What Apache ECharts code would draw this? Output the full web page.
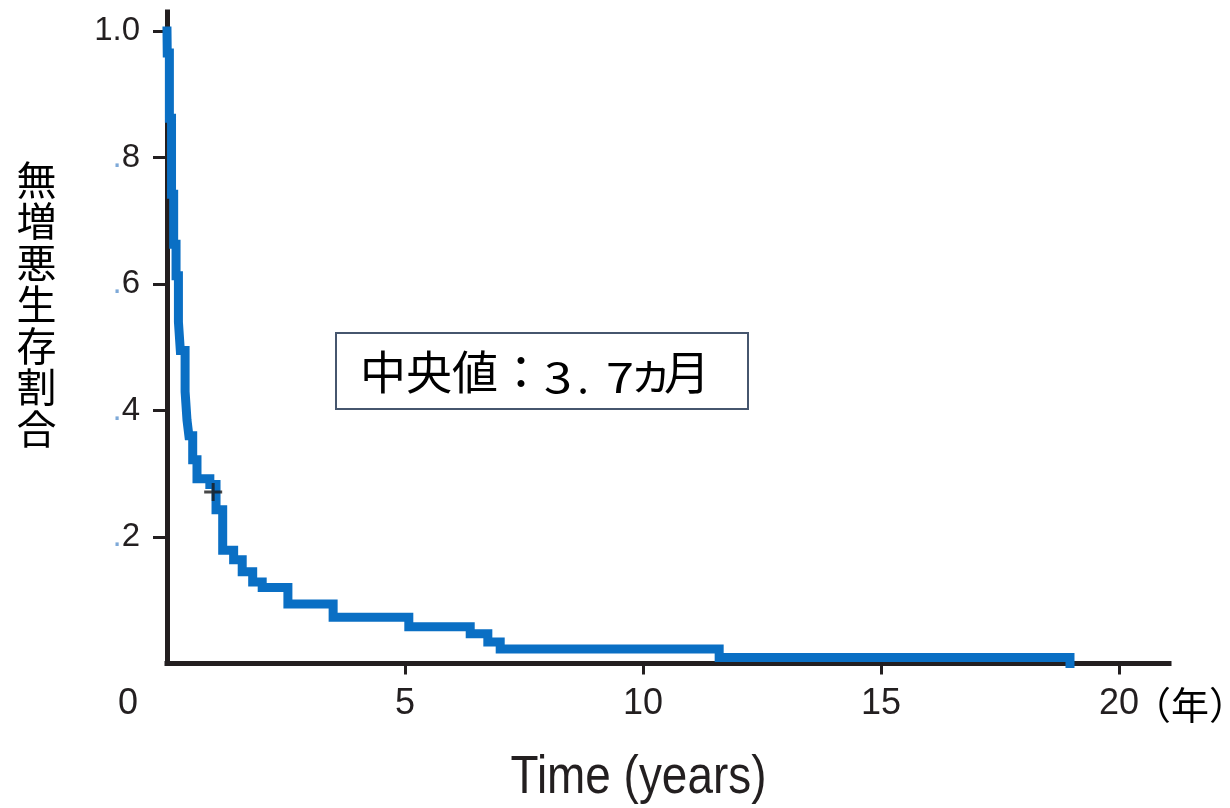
<!DOCTYPE html>
<html>
<head>
<meta charset="utf-8">
<script src="https://cdn.jsdelivr.net/npm/echarts@6/dist/echarts.min.js"></script>
<style>
  html, body { margin: 0; padding: 0; background: #fff; }
  #chart { width: 1230px; height: 808px; }
</style>
</head>
<body>
<div id="chart"></div>
<script>
// Kaplan–Meier progression-free survival: each point is [time in years, survival after the drop]
const stepTimes = [0, 0.005, 0.05, 0.095, 0.14, 0.19, 0.24, 0.28, 0.38, 0.42, 0.46, 0.54, 0.63,
  0.9, 1.03, 1.17, 1.40, 1.58, 1.80, 2.0, 2.54, 3.49, 5.08, 6.37, 6.74, 7.0, 11.6, 18.97];
const survival = [1.0, 0.965, 0.862, 0.742, 0.663, 0.613, 0.54, 0.495, 0.43, 0.385, 0.36, 0.322, 0.292,
  0.283, 0.243, 0.179, 0.164, 0.145, 0.129, 0.12, 0.094, 0.073, 0.058, 0.047, 0.034, 0.023, 0.0095, 0.0];

// Censored observation
const censorTimes = [0.97];
const censorSurv = [0.271];

// Axis ticks and labels
const xTickValues = [0, 5, 10, 15, 20];
const xTickLabels = ['0', '5', '10', '15', '20'];
const yTickValues = [0.2, 0.4, 0.6, 0.8, 1.0];
const yTickLabels = ['.2', '.4', '.6', '.8', '1.0'];

const yName = '無増悪生存割合';
const xName = 'Time (years)';
const xUnit = '（年）';

const kmData = stepTimes.map((t, i) => [t, survival[i]]);
const censorData = censorTimes.map((t, i) => [t, censorSurv[i]]);

const ink = '#231f20';
const latin = 'Liberation Sans, Arial, sans-serif';
const cjk = 'Noto Sans CJK JP';
const chart = echarts.init(document.getElementById('chart'), null, { renderer: 'canvas' });

// median annotation pieces: text, centre x, centre y, font size, horizontal stretch
const medianPieces = [
  ['中央値：', 360, 372, 46, 1, 'left'],
  ['3', 558, 377, 42, 1.2, 'center'],
  ['.', 583, 377, 42, 1, 'center'],
  ['7', 620, 377, 42, 1.2, 'center'],
  ['ヵ', 651, 372, 46, 1, 'center'],
  ['月', 664, 372, 46, 1, 'left']
];

chart.setOption({
  animation: false,
  backgroundColor: '#ffffff',
  grid: { left: 167, right: 61, top: 12, bottom: 144.5, containLabel: false },
  xAxis: {
    type: 'value', min: 0, max: 21.05, interval: 5,
    splitLine: { show: false },
    axisLine: { show: true, onZero: true, lineStyle: { color: ink, width: 5, cap: 'square' } },
    axisTick: { show: true, customValues: [5, 10, 15, 20], length: 11, lineStyle: { color: ink, width: 3 } },
    axisLabel: {
      customValues: xTickValues,
      margin: 23,
      color: ink,
      fontFamily: latin,
      fontSize: 36,
      formatter: function (v) {
        const i = xTickValues.indexOf(v);
        const s = i >= 0 ? xTickLabels[i] : '';
        return v === 0 ? '{origin|' + s + '}' : s;
      },
      rich: { origin: { padding: [0, 78, 0, 0], fontSize: 36, color: ink, fontFamily: latin } }
    }
  },
  yAxis: {
    type: 'value', min: 0, max: 1.03, interval: 0.2,
    splitLine: { show: false },
    axisLine: { show: true, lineStyle: { color: ink, width: 5, cap: 'square' } },
    axisTick: { show: true, customValues: yTickValues, length: 14, lineStyle: { color: ink, width: 3 } },
    axisLabel: {
      customValues: yTickValues,
      margin: 27,
      color: ink,
      fontFamily: latin,
      fontSize: 33,
      formatter: function (v) {
        let i = -1;
        yTickValues.forEach((tv, k) => { if (Math.abs(tv - v) < 1e-6) i = k; });
        if (i < 0) return '';
        const s = yTickLabels[i];
        return s.charAt(0) === '.' ? '{dot|.}{num|' + s.slice(1) + '}' : '{num|' + s + '}';
      },
      rich: {
        dot: { color: '#7ea9d8', fontSize: 33, fontFamily: latin },
        num: { color: ink, fontSize: 33, fontFamily: latin }
      }
    }
  },
  series: [
    {
      type: 'line',
      data: kmData,
      step: 'end',
      showSymbol: false,
      clip: false,
      z: 3,
      lineStyle: { color: '#0a6fc4', width: 9, join: 'miter', cap: 'square' }
    },
    {
      type: 'scatter',
      data: censorData,
      symbol: 'path://M-1.5,-9H1.5V-1.5H9V1.5H1.5V9H-1.5V1.5H-9V-1.5H-1.5Z',
      symbolSize: 18,
      itemStyle: { color: '#1a1a1a' },
      z: 5
    }
  ],
  graphic: [
    {
      type: 'text', x: 36.5, y: 159,
      style: {
        text: yName.split('').join('\n'),
        fontFamily: cjk, fontSize: 40, lineHeight: 41.5,
        fill: '#000', align: 'center', verticalAlign: 'top'
      }
    },
    {
      type: 'text', x: 1133, y: 705,
      style: { text: xUnit, fontFamily: cjk, fontSize: 38, fill: '#000', align: 'left', verticalAlign: 'middle' }
    },
    {
      type: 'text', x: 638.5, y: 778, scaleX: 0.85,
      style: {
        text: xName, fontFamily: latin,
        fontSize: 54, fill: ink, align: 'center', verticalAlign: 'middle'
      }
    },
    {
      type: 'rect', shape: { x: 336, y: 333, width: 412, height: 76 },
      style: { fill: '#ffffff', stroke: '#46566e', lineWidth: 2 }, z: 10
    }
  ].concat(medianPieces.map(p => ({
    type: 'text', x: p[1], y: p[2], scaleX: p[4], z: 11,
    style: { text: p[0], fontFamily: cjk, fontSize: p[3], fill: '#000', align: p[5], verticalAlign: 'middle' }
  })))
});
</script>
</body>
</html>
